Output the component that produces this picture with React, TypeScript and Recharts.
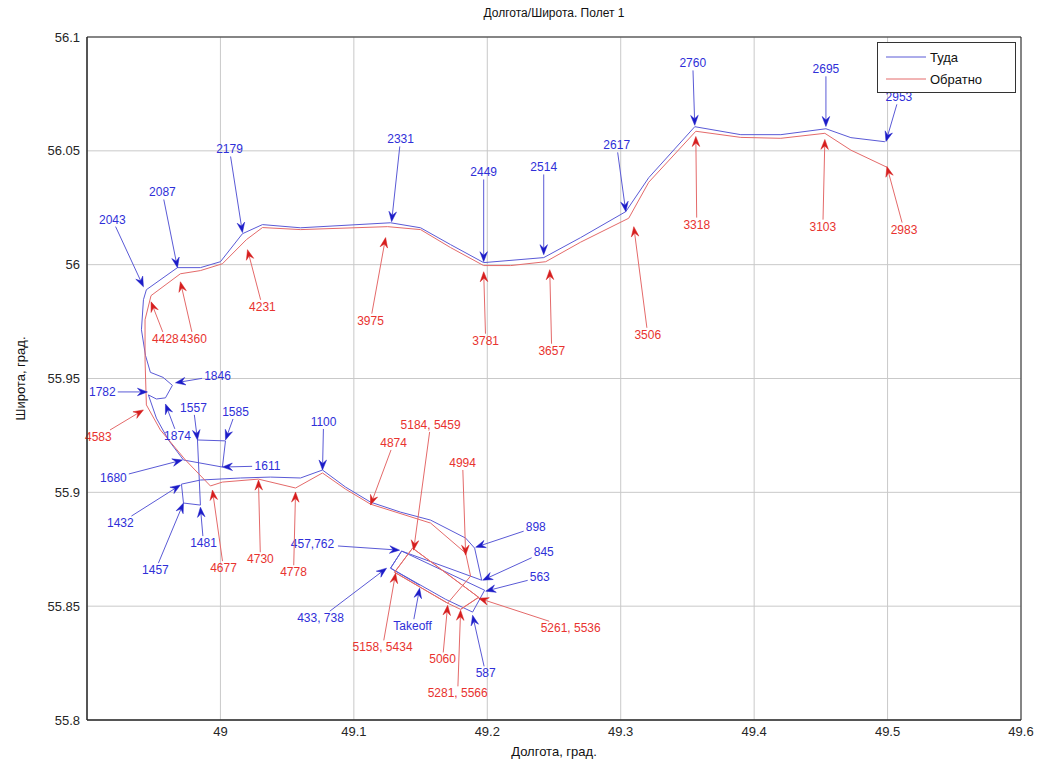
import React from 'react';
import { LineChart, Line, XAxis, YAxis, CartesianGrid, ReferenceLine, ReferenceArea } from 'recharts';

// Туда: longitude / latitude of the outbound track
const outboundLon = [
  49.1493, 49.1275, 49.1358, 49.198, 49.189, 49.1688, 49.1275, 49.1358, 49.1958, 49.1905,
  49.1838, 49.1575, 49.135, 49.1125, 49.0938, 49.0765, 49.06, 49.0375, 49.015, 48.985,
  48.9708, 48.9723, 48.985, 48.9828, 49.0038, 49.0015, 48.9723, 48.961, 48.952, 48.946,
  48.952, 48.9588, 48.964, 48.957, 48.9475, 48.9438, 48.9408, 48.9423, 48.9445, 48.9678,
  48.985, 49.0, 49.0165, 49.0315, 49.06, 49.1275, 49.15, 49.1725, 49.1973, 49.2423,
  49.27, 49.3038, 49.321, 49.3555, 49.39, 49.42, 49.4538, 49.4725, 49.498,
];
const outboundLat = [
  55.8592, 55.8667, 55.8742, 55.857, 55.8474, 55.853, 55.8667, 55.8742, 55.8614, 55.8755,
  55.8799, 55.8878, 55.8913, 55.8957, 55.9023, 55.9098, 55.9063, 55.9067, 55.9063, 55.9054,
  55.9036, 55.8953, 55.8944, 55.923, 55.9226, 55.9111, 55.9142, 55.923, 55.9326, 55.9428,
  55.941, 55.9415, 55.947, 55.9505, 55.9527, 55.9602, 55.9714, 55.9846, 55.989, 55.9987,
  55.9987, 56.0013, 56.0136, 56.0176, 56.0162, 56.0184, 56.0162, 56.0088, 56.0009, 56.0031,
  56.0119, 56.0233, 56.0382, 56.0606, 56.0571, 56.0571, 56.0597, 56.0558, 56.054,
];

// Обратно: return track
const returnLon = [
  49.4995, 49.4725, 49.453, 49.42, 49.39, 49.3563, 49.321, 49.306, 49.27, 49.2438,
  49.2175, 49.1973, 49.1725, 49.15, 49.1253, 49.06, 49.0315, 49.0195, 49.0015, 48.985,
  48.97, 48.948, 48.9435, 48.9435, 48.9445, 48.955, 48.9738, 48.9925, 49.0015, 49.0285,
  49.0563, 49.0765, 49.0938, 49.1125, 49.1575, 49.1838, 49.1875, 49.1703, 49.1305, 49.144,
  49.1935, 49.18, 49.1703, 49.1305, 49.144, 49.1935, 49.18,
];
const returnLat = [
  56.0428, 56.0503, 56.0577, 56.0555, 56.0559, 56.0586, 56.0362, 56.0204, 56.0099, 56.0013,
  55.9996, 55.9996, 56.0075, 56.0154, 56.0167, 56.0154, 56.0163, 56.011, 56.0004, 55.9974,
  55.996, 55.9864, 55.9758, 55.9582, 55.9384, 55.9274, 55.9142, 55.9028, 55.9045, 55.9058,
  55.9019, 55.9085, 55.9014, 55.8948, 55.8865, 55.8733, 55.8632, 55.8513, 55.8649, 55.8755,
  55.8539, 55.8486, 55.8513, 55.8649, 55.8755, 55.8539, 55.8486,
];

// [label, text lon, text lat, tip lon, tip lat]
const outboundNotes: [string, number, number, number, number][] = [
  ['Takeoff', 49.144, 55.8412, 49.1493, 55.8579],
  ['433, 738', 49.075, 55.8447, 49.1245, 55.8667],
  ['457,762', 49.069, 55.8772, 49.1343, 55.8746],
  ['563', 49.2393, 55.8627, 49.1988, 55.8566],
  ['587', 49.1988, 55.8205, 49.189, 55.846],
  ['845', 49.2423, 55.8737, 49.1965, 55.8614],
  ['898', 49.2363, 55.8847, 49.1913, 55.8759],
  ['1100', 49.0773, 55.9309, 49.0765, 55.9098],
  ['1432', 48.925, 55.8865, 48.97, 55.9032],
  ['1457', 48.9513, 55.8658, 48.9723, 55.8953],
  ['1481', 48.9873, 55.8777, 48.985, 55.8935],
  ['1557', 48.9798, 55.9371, 48.9828, 55.923],
  ['1585', 49.0113, 55.9353, 49.0038, 55.923],
  ['1611', 49.0353, 55.9116, 49.0015, 55.9111],
  ['1680', 48.9198, 55.9063, 48.9715, 55.9142],
  ['1782', 48.9115, 55.9441, 48.9453, 55.9441],
  ['1846', 48.9978, 55.9512, 48.9663, 55.9481],
  ['1874', 48.9678, 55.9248, 48.9588, 55.9388],
  ['2043', 48.919, 56.0198, 48.9423, 55.9903],
  ['2087', 48.9565, 56.0317, 48.9678, 55.9987],
  ['2179', 49.0068, 56.0506, 49.0165, 56.0141],
  ['2331', 49.135, 56.055, 49.1283, 56.0189],
  ['2449', 49.1973, 56.0405, 49.1973, 56.0013],
  ['2514', 49.2423, 56.0427, 49.2423, 56.0044],
  ['2617', 49.297, 56.0524, 49.3038, 56.0233],
  ['2760', 49.354, 56.0884, 49.3555, 56.0612],
  ['2695', 49.4538, 56.0858, 49.4538, 56.0607],
  ['2953', 49.5085, 56.0735, 49.4988, 56.0541],
];

const returnNotes: [string, number, number, number, number][] = [
  ['2983', 49.5123, 56.0154, 49.4995, 56.0431],
  ['3103', 49.4515, 56.0167, 49.453, 56.055],
  ['3318', 49.357, 56.0176, 49.3563, 56.0563],
  ['3506', 49.3203, 55.9692, 49.3098, 56.0167],
  ['3657', 49.2483, 55.9622, 49.2468, 55.9978],
  ['3781', 49.1988, 55.9666, 49.1973, 55.9969],
  ['3975', 49.1125, 55.9754, 49.1238, 56.0119],
  ['4231', 49.0315, 55.9815, 49.0203, 56.0066],
  ['4360', 48.9798, 55.9674, 48.97, 55.9925],
  ['4428', 48.9588, 55.9674, 48.948, 55.9837],
  ['4583', 48.9085, 55.9243, 48.9423, 55.9362],
  ['4677', 49.0023, 55.8667, 48.994, 55.901],
  ['4730', 49.03, 55.8706, 49.0285, 55.9054],
  ['4778', 49.0548, 55.8649, 49.0563, 55.9001],
  ['4874', 49.1298, 55.9217, 49.1125, 55.8944],
  ['5184, 5459', 49.1575, 55.9296, 49.1448, 55.8746],
  ['4994', 49.1815, 55.9129, 49.1838, 55.8724],
  ['5261, 5536', 49.2625, 55.8403, 49.1935, 55.8535],
  ['5158, 5434', 49.1215, 55.8319, 49.1313, 55.8645],
  ['5060', 49.1665, 55.8266, 49.1703, 55.8504],
  ['5281, 5566', 49.1778, 55.8117, 49.18, 55.8482],
];

const xTicks = [49, 49.1, 49.2, 49.3, 49.4, 49.5, 49.6];
const yTicks = [55.8, 55.85, 55.9, 55.95, 56, 56.05, 56.1];

const outbound = outboundLon.map((lon, i) => ({ lon, lat: outboundLat[i] }));
const returning = returnLon.map((lon, i) => ({ lon, lat: returnLat[i] }));

const FONT = '"Liberation Sans", Arial, Helvetica, sans-serif';

const BLUE = { head: '#1c1cc8', line: '#5a5ad6', text: '#2f2fd8' };
const RED = { head: '#d61e1e', line: '#e46a6a', text: '#e8332f' };

const TextArrow = (props: any) => {
  const { x1, y1, x2, y2, label, colors } = props;
  const dx = x2 - x1;
  const dy = y2 - y1;
  const len = Math.hypot(dx, dy) || 1;
  const ux = dx / len;
  const uy = dy / len;
  const hw = label.length * 3.35 + 2;
  const hh = 7;
  const tx = Math.abs(ux) > 1e-6 ? hw / Math.abs(ux) : Infinity;
  const ty = Math.abs(uy) > 1e-6 ? hh / Math.abs(uy) : Infinity;
  const t = Math.min(tx, ty);
  const sx = x1 + ux * t;
  const sy = y1 + uy * t;
  const hl = 10;
  const hwid = 3.8;
  const bx = x2 - ux * hl;
  const by = y2 - uy * hl;
  const nx = x2 - ux * 6.5;
  const ny = y2 - uy * 6.5;
  const px = -uy;
  const py = ux;
  const head = `M${x2},${y2} L${bx + px * hwid},${by + py * hwid} L${nx},${ny} L${bx - px * hwid},${by - py * hwid} Z`;
  return (
    <g>
      <line x1={sx} y1={sy} x2={nx} y2={ny} stroke={colors.line} strokeWidth={1} />
      <path d={head} fill={colors.head} stroke={colors.head} strokeWidth={0.5} />
      <text
        x={x1}
        y={y1}
        textAnchor="middle"
        dominantBaseline="central"
        fontSize={12}
        fontFamily={FONT}
        fill={colors.text}
      >
        {label}
      </text>
    </g>
  );
};

const renderNotes = (notes: [string, number, number, number, number][], colors: any, prefix: string) =>
  notes.map((n) => (
    <ReferenceLine
      key={prefix + n[0]}
      segment={[
        { x: n[1], y: n[2] },
        { x: n[3], y: n[4] },
      ]}
      shape={(p: any) => <TextArrow {...p} label={n[0]} colors={colors} />}
    />
  ));

const LegendBox = () => (
  <div
    style={{
      position: 'absolute',
      left: 869,
      top: 34,
      width: 137,
      height: 49,
      border: '1px solid #333',
      background: '#fff',
      fontFamily: FONT,
      fontSize: 13,
      color: '#111',
    }}
  >
    <svg width={137} height={49} style={{ position: 'absolute', left: 0, top: 0 }}>
      <line x1={8} y1={14} x2={48} y2={14} stroke={BLUE.line} strokeWidth={1} />
      <line x1={8} y1={36} x2={48} y2={36} stroke={RED.line} strokeWidth={1} />
      <text x={52} y={14} dominantBaseline="central" fontSize={13} fontFamily={FONT} fill="#111">
        Туда
      </text>
      <text x={52} y={36} dominantBaseline="central" fontSize={13} fontFamily={FONT} fill="#111">
        Обратно
      </text>
    </svg>
  </div>
);

export default function App() {
  return (
    <div style={{ position: 'relative', width: 1031, height: 751, fontFamily: FONT }}>
      <div
        style={{
          position: 'absolute',
          top: -2,
          left: 79,
          width: 934,
          textAlign: 'center',
          fontSize: 12,
          color: '#111',
        }}
      >
        Долгота/Широта. Полет 1
      </div>
      <LineChart
        width={1031}
        height={751}
        margin={{ top: 29, right: 18, left: 0, bottom: 0 }}
        style={{ overflow: 'visible' }}
      >
        <CartesianGrid stroke="#c9c9c9" />
        <XAxis
          dataKey="lon"
          type="number"
          domain={[48.9, 49.6]}
          ticks={xTicks}
          height={39}
          tickLine={false}
          tickSize={0}
          tickMargin={7}
          axisLine={{ stroke: '#262626' }}
          tick={{ fontSize: 13, fill: '#262626', fontFamily: FONT }}
          label={{
            value: 'Долгота, град.',
            position: 'insideBottom',
            offset: 3,
            style: { fontSize: 13, fill: '#111', fontFamily: FONT },
          }}
        />
        <YAxis
          dataKey="lat"
          type="number"
          domain={[55.8, 56.1]}
          ticks={yTicks}
          width={79}
          tickLine={false}
          tickSize={0}
          tickMargin={7}
          axisLine={{ stroke: '#262626' }}
          tick={{ fontSize: 13, fill: '#262626', fontFamily: FONT }}
          label={{
            value: 'Широта, град.',
            angle: -90,
            position: 'insideLeft',
            offset: 12,
            style: { fontSize: 13, fill: '#111', fontFamily: FONT, textAnchor: 'middle' },
          }}
        />
        <ReferenceArea x1={48.9} x2={49.6} y1={55.8} y2={56.1} fill="none" stroke="#262626" strokeWidth={1} />
        <Line
          data={outbound}
          dataKey="lat"
          type="linear"
          stroke={BLUE.line}
          strokeWidth={1}
          dot={false}
          isAnimationActive={false}
        />
        <Line
          data={returning}
          dataKey="lat"
          type="linear"
          stroke={RED.line}
          strokeWidth={1}
          dot={false}
          isAnimationActive={false}
        />
        {renderNotes(outboundNotes, BLUE, 'o')}
        {renderNotes(returnNotes, RED, 'r')}
      </LineChart>
      <LegendBox />
    </div>
  );
}
